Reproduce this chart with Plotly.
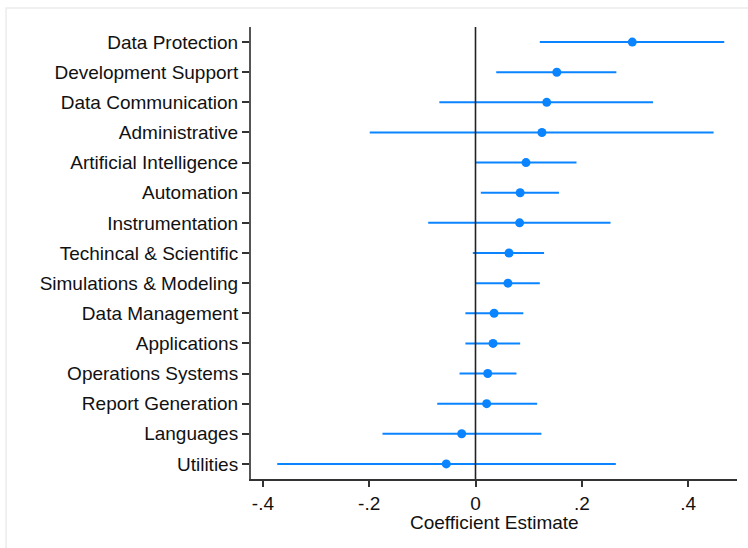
import plotly.graph_objects as go

# Coefficient estimates with 95% confidence intervals, top to bottom
categories = [
    "Data Protection", "Development Support", "Data Communication",
    "Administrative", "Artificial Intelligence", "Automation",
    "Instrumentation", "Techincal & Scientific", "Simulations & Modeling",
    "Data Management", "Applications", "Operations Systems",
    "Report Generation", "Languages", "Utilities",
]
estimate = [0.295, 0.153, 0.134, 0.125, 0.095, 0.084, 0.083, 0.063, 0.061,
            0.035, 0.033, 0.023, 0.021, -0.026, -0.055]
ci_low = [0.121, 0.039, -0.068, -0.199, 0.001, 0.010, -0.089, -0.005, 0.001,
          -0.019, -0.019, -0.030, -0.072, -0.175, -0.373]
ci_high = [0.468, 0.265, 0.334, 0.448, 0.190, 0.157, 0.254, 0.129, 0.121,
           0.090, 0.084, 0.077, 0.116, 0.124, 0.264]

x_ticks = [-0.4, -0.2, 0, 0.2, 0.4]
x_tick_labels = ["-.4", "-.2", "0", ".2", ".4"]
x_title = "Coefficient Estimate"

blue = "rgb(10,132,255)"

fig = go.Figure()
fig.add_trace(go.Scatter(
    x=estimate,
    y=categories,
    mode="markers",
    marker=dict(color=blue, size=9),
    error_x=dict(
        type="data",
        symmetric=False,
        array=[h - e for h, e in zip(ci_high, estimate)],
        arrayminus=[e - l for e, l in zip(estimate, ci_low)],
        color=blue,
        thickness=2,
        width=0,
    ),
    showlegend=False,
))

# Reference line at zero, drawn over the intervals
fig.add_shape(type="line", xref="x", yref="paper", x0=0, x1=0, y0=0, y1=1,
              line=dict(color="#222222", width=1.6), layer="above")

# Light outer frame around the graph region
fig.add_shape(type="rect", xref="paper", yref="paper",
              x0=-0.504, x1=1.03, y0=-0.16, y1=1.042,
              line=dict(color="#ececec", width=1.5), layer="below")

# X-axis title placed just under the tick labels
fig.add_annotation(text=x_title, xref="paper", yref="paper", x=0.5, y=-0.097,
                   xanchor="center", yanchor="middle", showarrow=False,
                   font=dict(size=19))

font_family = "Liberation Sans, Arial, sans-serif"

fig.update_layout(
    width=748,
    height=548,
    margin=dict(l=251, r=11, t=27, b=69),
    paper_bgcolor="white",
    plot_bgcolor="white",
    font=dict(family=font_family, size=19, color="#111111"),
    xaxis=dict(
        range=[-0.4224, 0.492],
        tickvals=x_ticks,
        ticktext=x_tick_labels,
        showgrid=False,
        zeroline=False,
        showline=True,
        linecolor="#333333",
        linewidth=1.5,
        ticks="outside",
        ticklen=6,
        tickwidth=1.5,
        tickcolor="#333333",
        tickfont=dict(size=19),
    ),
    yaxis=dict(
        type="category",
        categoryorder="array",
        categoryarray=categories[::-1],
        range=[-0.5, 14.5],
        showgrid=False,
        zeroline=False,
        showline=True,
        linecolor="#555555",
        linewidth=2,
        ticks="outside",
        ticklen=7,
        tickwidth=1.5,
        tickcolor="#333333",
        tickfont=dict(size=19),
    ),
)

fig.write_html("out.html")
